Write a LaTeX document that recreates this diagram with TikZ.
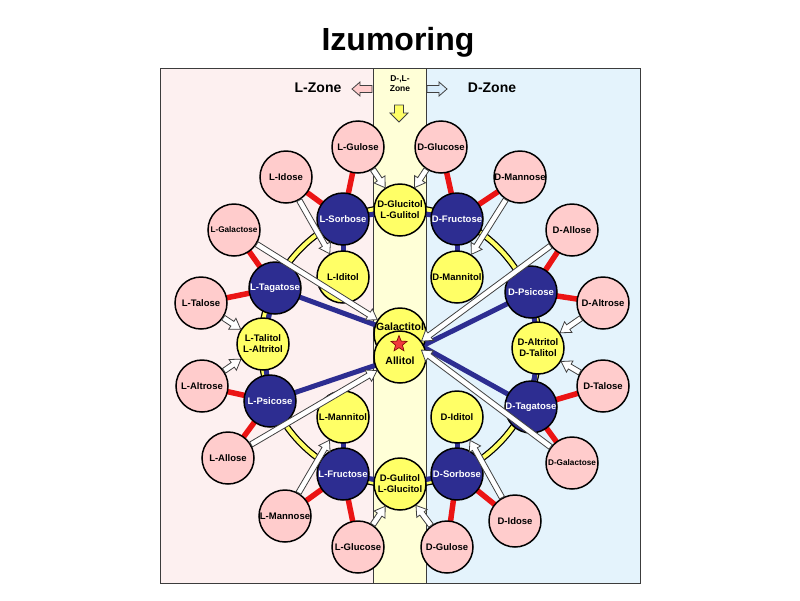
\documentclass[tikz,border=0pt]{standalone}
\usepackage{fontspec}
\setmainfont{Liberation Sans}
\usetikzlibrary{calc,shapes.geometric}
\definecolor{pinkc}{RGB}{255,204,204}
\definecolor{bluec}{RGB}{45,45,145}
\definecolor{yelc}{RGB}{255,255,102}
\definecolor{redc}{RGB}{235,20,20}
\definecolor{bgl}{RGB}{253,240,240}
\definecolor{bgc}{RGB}{255,255,215}
\definecolor{bgr}{RGB}{228,243,252}
\definecolor{framec}{RGB}{60,60,60}
\definecolor{lbluec}{RGB}{215,235,250}
\definecolor{starc}{RGB}{240,60,60}
\pgfdeclarelayer{bglayer}
\pgfdeclarelayer{midlayer}
\pgfsetlayers{bglayer,midlayer,main}
\newcommand\fatarr[2]{%
  \path (#1) -- (#2) coordinate[pos=0] (fs) coordinate[pos=1] (fe);
  \coordinate (fb) at ($(fe)!10pt!(fs)$);
  \draw[fatarrow] ($(fs)!2.8pt!90:(fe)$) -- ($(fb)!2.8pt!-90:(fs)$) -- ($(fb)!6.5pt!-90:(fs)$) -- (fe)
     -- ($(fb)!6.5pt!90:(fs)$) -- ($(fb)!2.8pt!90:(fs)$) -- ($(fs)!2.8pt!-90:(fe)$) -- cycle;
}
\begin{document}
\begin{tikzpicture}[x=1pt,y=-1pt,
  base/.style={circle, draw=black, line width=1.5pt, minimum size=52pt, inner sep=0pt,
     font=\bfseries\fontsize{9.5}{11}\selectfont, align=center},
  ald/.style={base, fill=pinkc},
  ket/.style={base, fill=bluec, text=white},
  pol/.style={base, fill=yelc},
  small/.style={font=\bfseries\fontsize{8.2}{9}\selectfont},
  centertext/.style={font=\bfseries\fontsize{10.5}{12}\selectfont, inner sep=0pt},
  redline/.style={redc, line width=5.5pt},
  blueline/.style={bluec, line width=5pt},
  fatarrow/.style={draw=black!75, fill=white, line width=0.8pt, line join=miter},
  zonearr/.style={draw=black!75, line width=0.8pt},
  zonetext/.style={font=\bfseries\fontsize{14}{16}\selectfont}]
\useasboundingbox (0,0) rectangle (800,600);
\begin{pgfonlayer}{bglayer}
\fill[white] (0,0) rectangle (800,600);
\fill[bgl] (160,68) rectangle (373,583);
\fill[bgc] (373,68) rectangle (426,583);
\fill[bgr] (426,68) rectangle (640,583);
\draw[framec, line width=0.8pt] (373,68) -- (373,583) (426,68) -- (426,583);
\draw[framec, line width=1pt] (160,68) rectangle (640,583);
\coordinate (rc) at (400,346);
\draw[black, line width=6.5pt] (rc) circle[radius=139pt];
\draw[yelc, line width=4pt] (rc) circle[radius=139pt];
\end{pgfonlayer}
% title and zone labels
\node[font=\bfseries\fontsize{32}{38}\selectfont] (title) at (398,42) {Izumoring};
\node[zonetext] (lzone) at (318,88) {L-Zone};
\node[zonetext] (dzone) at (492,88) {D-Zone};
\node[font=\bfseries\fontsize{8.5}{10}\selectfont, align=center] (dlzone) at (400,84) {D-,L-\\Zone};
\draw[zonearr, fill=pinkc, shift={(362,89)}] (10,-3.5) -- (-2,-3.5) -- (-2,-7) -- (-10,0) -- (-2,7) -- (-2,3.5) -- (10,3.5) -- cycle;
\draw[zonearr, fill=lbluec, shift={(437,89)}] (-10,-3.5) -- (2,-3.5) -- (2,-7) -- (10,0) -- (2,7) -- (2,3.5) -- (-10,3.5) -- cycle;
\draw[zonearr, fill=yelc, shift={(399,113)}] (-4.5,-8) -- (4.5,-8) -- (4.5,0) -- (9,0) -- (0,9) -- (-9,0) -- (-4.5,0) -- cycle;
% aldoses
\node[ald] (lgul) at (358,147) {L-Gulose};
\node[ald] (dglc) at (441,147) {D-Glucose};
\node[ald] (lido) at (286,177) {L-Idose};
\node[ald] (dman) at (520,177) {D-Mannose};
\node[ald, small] (lgal) at (234,230) {L-Galactose};
\node[ald] (dall) at (572,230) {D-Allose};
\node[ald] (ltal) at (201,303) {L-Talose};
\node[ald] (dalt) at (603,303) {D-Altrose};
\node[ald] (lalt) at (202,386) {L-Altrose};
\node[ald] (dtal) at (603,386) {D-Talose};
\node[ald] (lall) at (228,458) {L-Allose};
\node[ald, small] (dgal) at (572,463) {D-Galactose};
\node[ald] (lman) at (285,516) {L-Mannose};
\node[ald] (dido) at (515,521) {D-Idose};
\node[ald] (lglc) at (358,547) {L-Glucose};
\node[ald] (dgul) at (447,547) {D-Gulose};
% ketoses
\node[ket] (lsor) at (343,219) {L-Sorbose};
\node[ket] (dfru) at (457,219) {D-Fructose};
\node[ket] (ltag) at (275,288) {L-Tagatose};
\node[ket] (dpsi) at (531,292) {D-Psicose};
\node[ket] (lpsi) at (270,401) {L-Psicose};
\node[ket] (dtag) at (531,407) {D-Tagatose};
\node[ket] (lfru) at (343,474) {L-Fructose};
\node[ket] (dsor) at (457,474) {D-Sorbose};
% polyols
\node[pol] (ptop) at (400,210) {D-Glucitol\\L-Gulitol};
\node[pol] (lidt) at (343,277) {L-Iditol};
\node[pol] (dmat) at (457,277) {D-Mannitol};
\node[pol] (ltat) at (263,344) {L-Talitol\\L-Altritol};
\node[pol] (dalo) at (538,348) {D-Altritol\\D-Talitol};
\node[pol] (lmat) at (343,417) {L-Mannitol};
\node[pol] (didt) at (457,417) {D-Iditol};
\node[pol] (pbot) at (400,484) {D-Gulitol\\L-Glucitol};
\node[pol] (galc) at (400,334) {};
\node[pol] (allc) at (400,357) {};
\node[centertext] (galt) at (400,327) {Galactitol};
\node[centertext] (allt) at (400,361) {Allitol};
\node[star, star points=5, star point ratio=2.3, fill=starc, draw=red!45!black, line width=0.6pt,
      minimum size=17pt, inner sep=0pt] (starn) at (399,344) {};
% connectors behind nodes
\begin{pgfonlayer}{midlayer}
\foreach \a/\b in {lgul/lsor, lido/lsor, dglc/dfru, dman/dfru, lgal/ltag, ltal/ltag,
                   dall/dpsi, dalt/dpsi, lalt/lpsi, lall/lpsi, dtal/dtag, dgal/dtag,
                   lman/lfru, lglc/lfru, dgul/dsor, dido/dsor}
  \draw[redline] (\a.center) -- (\b.center);
\foreach \a/\b in {lsor/ptop, dfru/ptop, lsor/lidt, dfru/dmat, ltag/ltat, lpsi/ltat,
                   dpsi/dalo, dtag/dalo, lfru/lmat, lfru/pbot, dsor/pbot, dsor/didt,
                   ltag/galc, dtag/galc, lpsi/allc, dpsi/allc}
  \draw[blueline] (\a.center) -- (\b.center);
\end{pgfonlayer}
% reduction arrows
\foreach \a/\b in {lgul/ptop, dglc/ptop, lido/lidt, dman/dmat, lgal/galc, dall/allc,
                   ltal/ltat, dalt/dalo, lalt/ltat, dtal/dalo, lall/allc, dgal/galc,
                   lman/lmat, dido/didt, lglc/pbot, dgul/pbot}
  \fatarr{\a}{\b};
\end{tikzpicture}
\end{document}
